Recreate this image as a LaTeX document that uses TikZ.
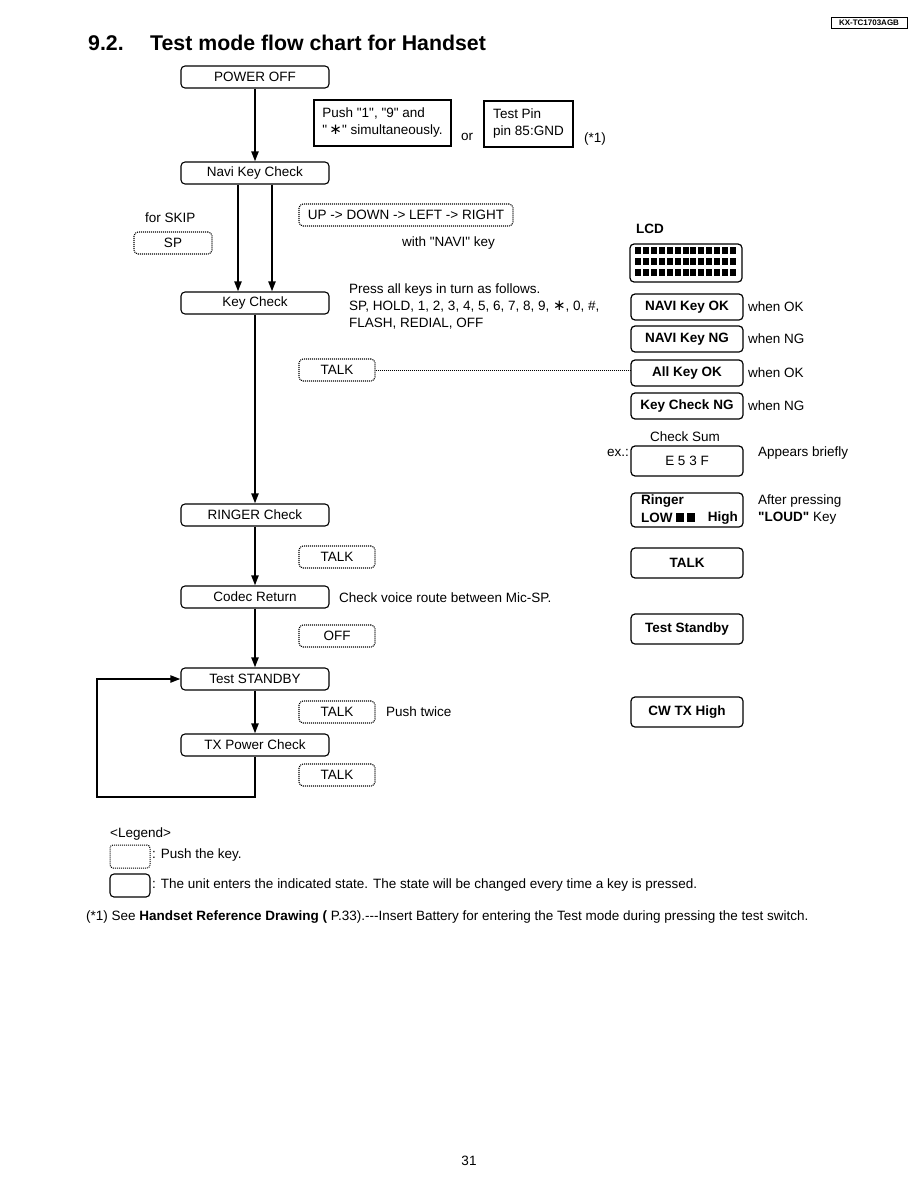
\documentclass[tikz,border=0pt]{standalone}
\usepackage{fontspec}
\setmainfont{Liberation Sans}[Ligatures=TeXOff]
\newfontfamily\djv{DejaVu Sans}
\usetikzlibrary{arrows.meta,calc}
\newcommand{\bigast}{{\djv\fontsize{15}{15}\selectfont ∗}}
\begin{document}
\begin{tikzpicture}[x=1pt,y=-1pt,
  base/.style={font=\fontsize{13.5}{17}\selectfont, inner sep=0pt},
  state/.style={base, draw, rounded corners=4pt, line width=1.1pt, minimum width=148pt, minimum height=22pt},
  keybox/.style={base, draw, dash pattern=on 1pt off 1pt, rounded corners=4pt, line width=1.1pt, minimum width=76pt, minimum height=22pt},
  lcdbox/.style={draw, inner sep=0pt, rounded corners=4pt, line width=1.2pt, minimum width=112pt, minimum height=26pt, font=\fontsize{13.5}{17}\selectfont\bfseries},
  plain/.style={draw, inner sep=0pt, line width=1.1pt, font=\fontsize{13.5}{17}\selectfont},
  txt/.style={base, anchor=west},
  btxt/.style={inner sep=0pt, anchor=west, font=\fontsize{13.5}{17}\selectfont\bfseries},
  flow/.style={line width=2pt, -{Triangle[length=10pt,width=7pt]}}
]
\useasboundingbox[fill=white] (0,0) rectangle (918,1188);

% header
\node[draw, line width=1pt, minimum width=76pt, minimum height=11pt, inner sep=0pt, font=\fontsize{8}{9}\selectfont\bfseries] (hdr) at (869,22.7) {KX-TC1703AGB};
\node[inner sep=0pt, anchor=base west, font=\fontsize{21.3}{24}\selectfont\bfseries] (secno) at (88,50.7) {9.2.};
\node[inner sep=0pt, anchor=base west, font=\fontsize{21.3}{24}\selectfont\bfseries] (title) at (150,50.7) {Test mode flow chart for Handset};

% main states
\node[state] (poweroff) at (255,77) {POWER OFF};
\node[state] (navi) at (255,173) {Navi Key Check};
\node[state] (keycheck) at (255,303) {Key Check};
\node[state] (ringer) at (255,515) {RINGER Check};
\node[state] (codec) at (255,597) {Codec Return};
\node[state] (standby) at (255,679) {Test STANDBY};
\node[state] (txpower) at (255,745) {TX Power Check};

% entry boxes
\node[plain, minimum width=137pt, minimum height=46pt, align=left] (push) at (382.5,123) {Push "1", "9" and\\"\,\bigast" simultaneously.};
\node[txt] (or) at (461,137) {or};
\node[plain, minimum width=89pt, minimum height=46pt, align=left] (testpin) at (528.5,124) {Test Pin\\pin 85:GND};
\node[txt] (note1) at (584,139) {(*1)};

% key boxes
\node[txt] (forskip) at (145,218) {for SKIP};
\node[keybox, minimum width=78pt] (sp) at (173,243) {SP};
\node[keybox, minimum width=214pt] (updown) at (406,215) {UP -> DOWN -> LEFT -> RIGHT};
\node[txt] (withnavi) at (402,243) {with "NAVI" key};
\node[base, anchor=north west, align=left] (pressall) at (349,284) {Press all keys in turn as follows.\\SP, HOLD, 1, 2, 3, 4, 5, 6, 7, 8, 9, \bigast, 0, \#,\\FLASH, REDIAL, OFF};
\node[keybox] (talka) at (337,370) {TALK};
\node[keybox] (talkb) at (337,557) {TALK};
\node[txt] (checkvoice) at (339,598) {Check voice route between Mic-SP.};
\node[keybox] (off) at (337,636) {OFF};
\node[keybox] (talkc) at (337,712) {TALK};
\node[txt] (twice) at (386,712) {Push twice};
\node[keybox] (talkd) at (337,775) {TALK};

% LCD column
\node[btxt] (lcdlabel) at (636,229) {LCD};
\node[draw, rounded corners=4pt, line width=1.2pt, minimum width=112pt, minimum height=38pt, inner sep=0pt] (lcd) at (686,263) {};
\foreach \r in {0,1,2} {
  \foreach \c in {0,...,12} {
    \fill ($(635,247)+(\c*7.92,\r*11.2)$) rectangle ++(6,7);
  }
}
\node[lcdbox] (naviok) at (687,307) {NAVI Key OK};
\node[txt] (w1) at (748,307) {when OK};
\node[lcdbox] (naving) at (687,339) {NAVI Key NG};
\node[txt] (w2) at (748,339) {when NG};
\node[lcdbox] (allok) at (687,373) {All Key OK};
\node[txt] (w3) at (748,373) {when OK};
\node[lcdbox] (keyng) at (687,406) {Key Check NG};
\node[txt] (w4) at (748,406) {when NG};
\node[base] (checksum) at (685,437) {Check Sum};
\node[base, anchor=east] (ex) at (629,453) {ex.:};
\node[lcdbox, minimum height=30pt, font=\fontsize{13.5}{17}\selectfont] (e53f) at (687,461) {E 5 3 F};
\node[txt] (briefly) at (758,453) {Appears briefly};
\node[lcdbox, minimum height=34pt] (ringerbox) at (687,510) {};
\node[btxt] (ringtxt) at (641,501) {Ringer};
\node[btxt] (lowtxt) at (641,518) {LOW};
\fill (676,513) rectangle (684,522);
\fill (687,513) rectangle (695,522);
\node[btxt, anchor=east] (hightxt) at (738,518) {High};
\node[txt] (after) at (758,501) {After pressing};
\node[txt] (loud) at (758,518) {\textbf{"LOUD"} Key};
\node[lcdbox, minimum height=30pt] (talklcd) at (687,563) {TALK};
\node[lcdbox, minimum height=30pt] (stdlcd) at (687,629) {Test Standby};
\node[lcdbox, minimum height=30pt] (cwlcd) at (687,712) {CW TX High};

% connectors
\draw[flow] (poweroff.south) -- (navi.north);
\draw[flow] ([xshift=-17pt]navi.south) -- ([xshift=-17pt]keycheck.north);
\draw[flow] ([xshift=17pt]navi.south) -- ([xshift=17pt]keycheck.north);
\draw[flow] (keycheck.south) -- (ringer.north);
\draw[flow] (ringer.south) -- (codec.north);
\draw[flow] (codec.south) -- (standby.north);
\draw[flow] (standby.south) -- (txpower.north);
\coordinate (loopc) at (97,797);
\draw[flow] (txpower.south) |- (loopc) |- (standby.west);
\draw[line width=0.8pt, dash pattern=on 1pt off 1pt] (talka.east) -- (talka.east -| allok.west);

% legend
\node[txt] (legend) at (110,834) {<Legend>};
\node[draw, dash pattern=on 1pt off 1pt, line width=1pt, rounded corners=3pt, minimum width=40pt, minimum height=23pt, inner sep=0pt] (lgkey) at (130,856.5) {};
\node[txt] (lgkeytxt) at (152,855) {: Push the key.};
\node[draw, line width=1.1pt, rounded corners=4pt, minimum width=40pt, minimum height=23pt, inner sep=0pt] (lgstate) at (130,885.5) {};
\node[txt] (lgstatetxt) at (152,885) {: The unit enters the indicated state. The state will be changed every time a key is pressed.};
\node[txt] (footnote) at (86,917) {(*1) See \textbf{Handset Reference Drawing (} P.33).---Insert Battery for entering the Test mode during pressing the test switch.};
\node[base] (pageno) at (469,1161) {31};
\end{tikzpicture}
\end{document}
